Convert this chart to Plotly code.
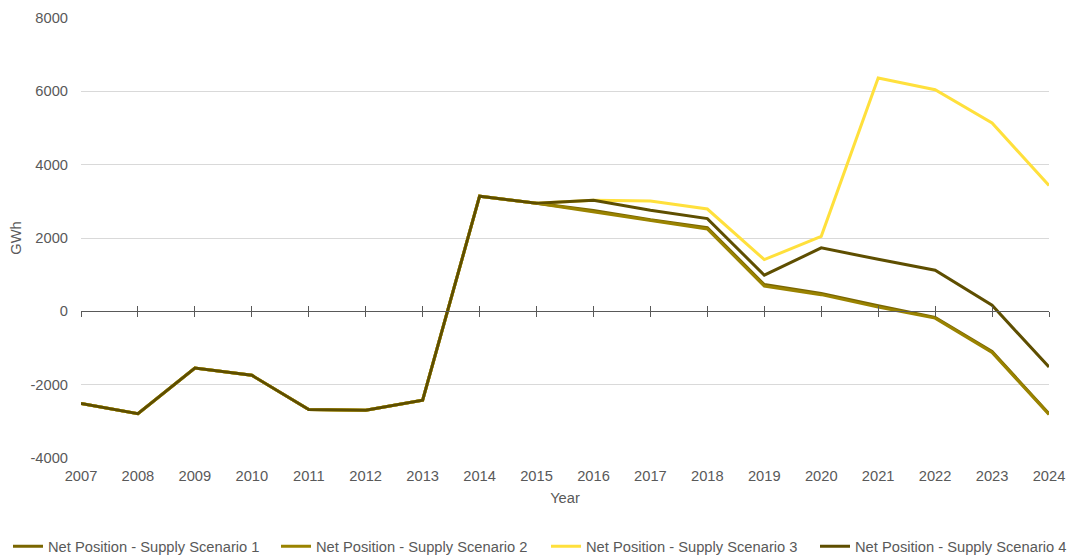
import plotly.graph_objects as go

years = list(range(2007, 2025))
tick_years = [str(y) for y in years]
y_ticks = [-4000, -2000, 0, 2000, 4000, 6000, 8000]
y_tick_text = ["-4000", "-2000", "0", "2000", "4000", "6000", "8000"]

s1 = [-2510, -2790, -1545, -1745, -2675, -2695, -2425, 3140, 2950, 2750, 2500, 2285, 730, 490, 150, -165, -1095, -2790]
s2 = [-2510, -2790, -1545, -1745, -2675, -2695, -2425, 3140, 2950, 2715, 2465, 2245, 690, 455, 115, -185, -1120, -2815]
s3 = [-2510, -2790, -1545, -1745, -2675, -2695, -2425, 3140, 2950, 3030, 3010, 2790, 1410, 2045, 6365, 6045, 5135, 3435]
s4 = [-2510, -2790, -1545, -1745, -2675, -2695, -2425, 3140, 2950, 3030, 2755, 2530, 985, 1730, 1420, 1120, 165, -1520]

names = ["Net Position - Supply Scenario 1", "Net Position - Supply Scenario 2",
         "Net Position - Supply Scenario 3", "Net Position - Supply Scenario 4"]
colors = ["#7A6600", "#9A8300", "#FFE03C", "#5E4E00"]
legend_ids = ["legend", "legend2", "legend3", "legend4"]
legend_x_px = [0, 268, 538, 807]

FONT = "Liberation Sans, Arial, sans-serif"
GREY = "#595959"
FS = 14.7
W, H = 1076, 556

fig = go.Figure()
for name, vals, col, lg in zip(names, [s1, s2, s3, s4], colors, legend_ids):
    fig.add_trace(go.Scatter(x=years, y=vals, mode="lines", name=name, legend=lg,
                             line=dict(color=col, width=3)))

# invisible helper traces to activate the overlay axes at y=0
fig.add_trace(go.Scatter(x=years, y=s1, xaxis="x2", mode="lines", line=dict(width=0),
                         showlegend=False, hoverinfo="skip", opacity=0))
fig.add_trace(go.Scatter(x=years, y=s1, xaxis="x3", mode="lines", line=dict(width=0),
                         showlegend=False, hoverinfo="skip", opacity=0))

legends = {}
for lg, px in zip(legend_ids, legend_x_px):
    legends[lg] = dict(orientation="h", xref="container", yref="container",
                       x=px / W, xanchor="left", y=0.031, yanchor="middle",
                       font=dict(size=FS, color=GREY), itemwidth=30,
                       bgcolor="rgba(0,0,0,0)")

fig.update_layout(
    width=W, height=H,
    margin=dict(l=73, r=35, t=10, b=106, autoexpand=False),
    paper_bgcolor="white", plot_bgcolor="white",
    font=dict(family=FONT, size=FS, color=GREY),
    xaxis=dict(range=[2007, 2024], tickvals=years, ticktext=tick_years,
               showgrid=False, zeroline=False, showline=False, ticks="",
               automargin=False, ticklabelstandoff=7,
               title=dict(text="Year", font=dict(size=FS, color=GREY), standoff=10),
               tickfont=dict(size=FS, color=GREY)),
    xaxis2=dict(range=[2007, 2024], tickvals=years, overlaying="x", anchor="free",
                position=1/3, showline=True, linecolor=GREY, linewidth=1,
                ticks="outside", ticklen=5, tickcolor=GREY, tickwidth=1,
                showticklabels=False, showgrid=False, zeroline=False, automargin=False),
    xaxis3=dict(range=[2007, 2024], tickvals=years, overlaying="x", anchor="free",
                position=1/3, showline=False,
                ticks="inside", ticklen=5, tickcolor=GREY, tickwidth=1,
                showticklabels=False, showgrid=False, zeroline=False, automargin=False),
    yaxis=dict(range=[-4000, 8000], tickvals=y_ticks, ticktext=y_tick_text,
               showgrid=True, gridcolor="#D9D9D9", gridwidth=1, zeroline=False,
               showline=False, ticks="", tickfont=dict(size=FS, color=GREY),
               automargin=False, ticklabelstandoff=12,
               title=dict(text="GWh", font=dict(size=FS, color=GREY), standoff=14)),
    showlegend=True,
    **legends,
)

fig.write_html("out.html")
